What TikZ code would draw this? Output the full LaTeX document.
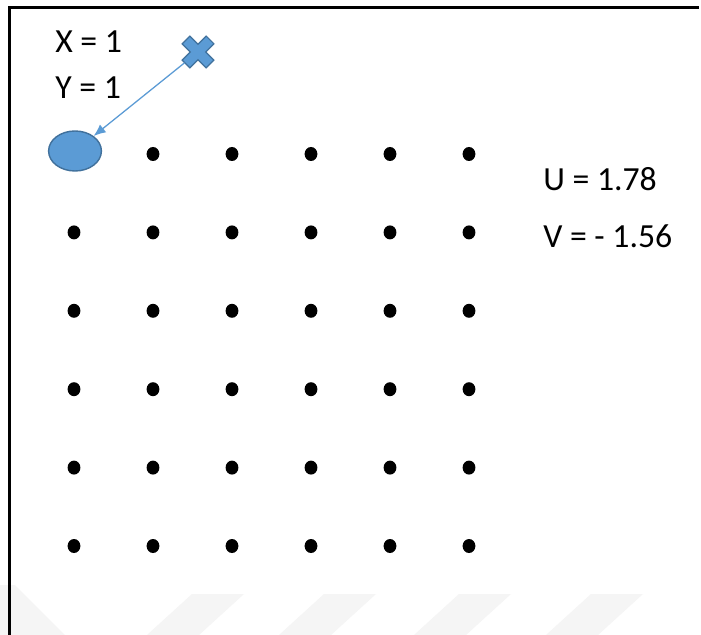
\documentclass[tikz,border=0pt]{standalone}
\usepackage{fontspec}
\setmainfont{Carlito}
\usetikzlibrary{positioning, arrows.meta, shapes.geometric}

\definecolor{pointblue}{HTML}{5B9BD5}
\definecolor{pointedge}{HTML}{41719C}

\begin{document}
\begin{tikzpicture}[x=0.025cm, y=-0.025cm, >={Latex[length=0.3cm, width=0.25cm]},
    dot/.style={ellipse, fill=black, inner sep=0,
        minimum width=0.32cm, minimum height=0.35cm},
    valuetext/.style={anchor=base west, inner sep=0,
        font=\fontsize{24}{28}\selectfont},
    stripe/.style={fill=black!4, draw=none}]
    \fill[white] (0,0) rectangle (701,635);
    \useasboundingbox (0,0) rectangle (701,635);

    % faint stripes along the bottom edge
    \fill[stripe] (0,585) -- (15,585) -- (65,635) -- (0,635) -- cycle;
    \foreach \bx in {147,279,414,546} {
        \fill[stripe] (\bx,635) -- (\bx+52,635) -- (\bx+97,594) -- (\bx+45,594) -- cycle;
    }

    % frame (top and left side only)
    \draw[line width=2.2pt] (9.5,635) -- (9.5,7.5) -- (699,7.5);

    % grid of samples
    \foreach \r in {1,...,6} {
        \foreach \c in {1,...,6} {
            \ifnum\r\c=11 \else
                \node [dot] (dot-\r-\c) at ({74+79*(\c-1)}, {154+78.4*(\r-1)}) {};
            \fi
        }
    }

    \node [draw=pointedge,
        fill=pointblue,
        line width=1pt,
        ellipse,
        minimum width=1.32cm,
        minimum height=1.0cm
    ] (target) at (75,151) {};

    \node [circle,
        minimum size=0.85cm,
        inner sep=0
    ] (cursor) at (198,52) {};
    \begin{scope}[shift={(cursor.center)}, rotate=45]
        \draw[draw=pointedge, fill=pointblue, line width=0.8pt]
            (-5.5,-17) -- (5.5,-17) -- (5.5,-5.5) -- (17,-5.5) -- (17,5.5) -- (5.5,5.5)
            -- (5.5,17) -- (-5.5,17) -- (-5.5,5.5) -- (-17,5.5) -- (-17,-5.5) -- (-5.5,-5.5) -- cycle;
    \end{scope}

    \draw[->, pointblue, line width=0.9pt] (cursor) -- (target);

    \node [valuetext] (xval) at (55,53) {X = 1};
    \node [valuetext] (yval) at (55,99) {Y = 1};
    \node [valuetext] (uval) at (543,191) {U = 1.78};
    \node [valuetext] (vval) at (543,248) {V = - 1.56};
\end{tikzpicture}
\end{document}
